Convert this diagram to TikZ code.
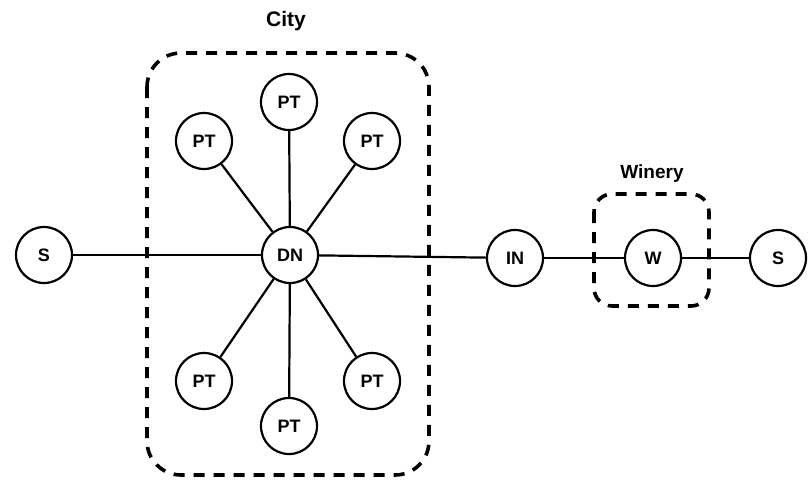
\documentclass[tikz,border=0pt]{standalone}
\usepackage{fontspec}
\setmainfont{Liberation Sans}
\begin{document}
\begin{tikzpicture}[x=1pt,y=-1pt,
  station/.style={circle,draw,line width=2.2pt,minimum size=56pt,inner sep=0pt,
    font=\fontsize{18}{18}\selectfont\bfseries},
  link/.style={line width=2.2pt},
  region/.style={draw,line width=3.6pt,dash pattern=on 11pt off 9pt,rounded corners=34pt},
  caption/.style={font=\fontsize{19}{19}\selectfont\bfseries}]
\useasboundingbox[fill=white] (0,0) rectangle (808,479);

% dashed regions
\draw[region] (147,53) rectangle (429,475);
\draw[region,rounded corners=18pt] (594,194) rectangle (709,306);
\node[caption,font=\fontsize{21}{21}\selectfont\bfseries] (citylbl) at (286,21) {City};
\node[caption] (winerylbl) at (652,174) {Winery};

% nodes
\node[station] (s1) at (44,255) {S};
\node[station] (dn) at (290,255) {DN};
\node[station] (pt1) at (289,102) {PT};
\node[station] (pt2) at (204,141) {PT};
\node[station] (pt3) at (372,141) {PT};
\node[station] (pt4) at (204,381) {PT};
\node[station] (pt5) at (372,381) {PT};
\node[station] (pt6) at (289,426) {PT};
\node[station] (in) at (515,258) {IN};
\node[station] (w) at (653,258) {W};
\node[station] (s2) at (778,258) {S};

% links
\draw[link] (s1) -- (dn);
\foreach \p in {pt1,pt2,pt3,pt4,pt5,pt6} \draw[link] (dn) -- (\p);
\draw[link] (dn) -- (in);
\draw[link] (in) -- (w);
\draw[link] (w) -- (s2);
\end{tikzpicture}
\end{document}
